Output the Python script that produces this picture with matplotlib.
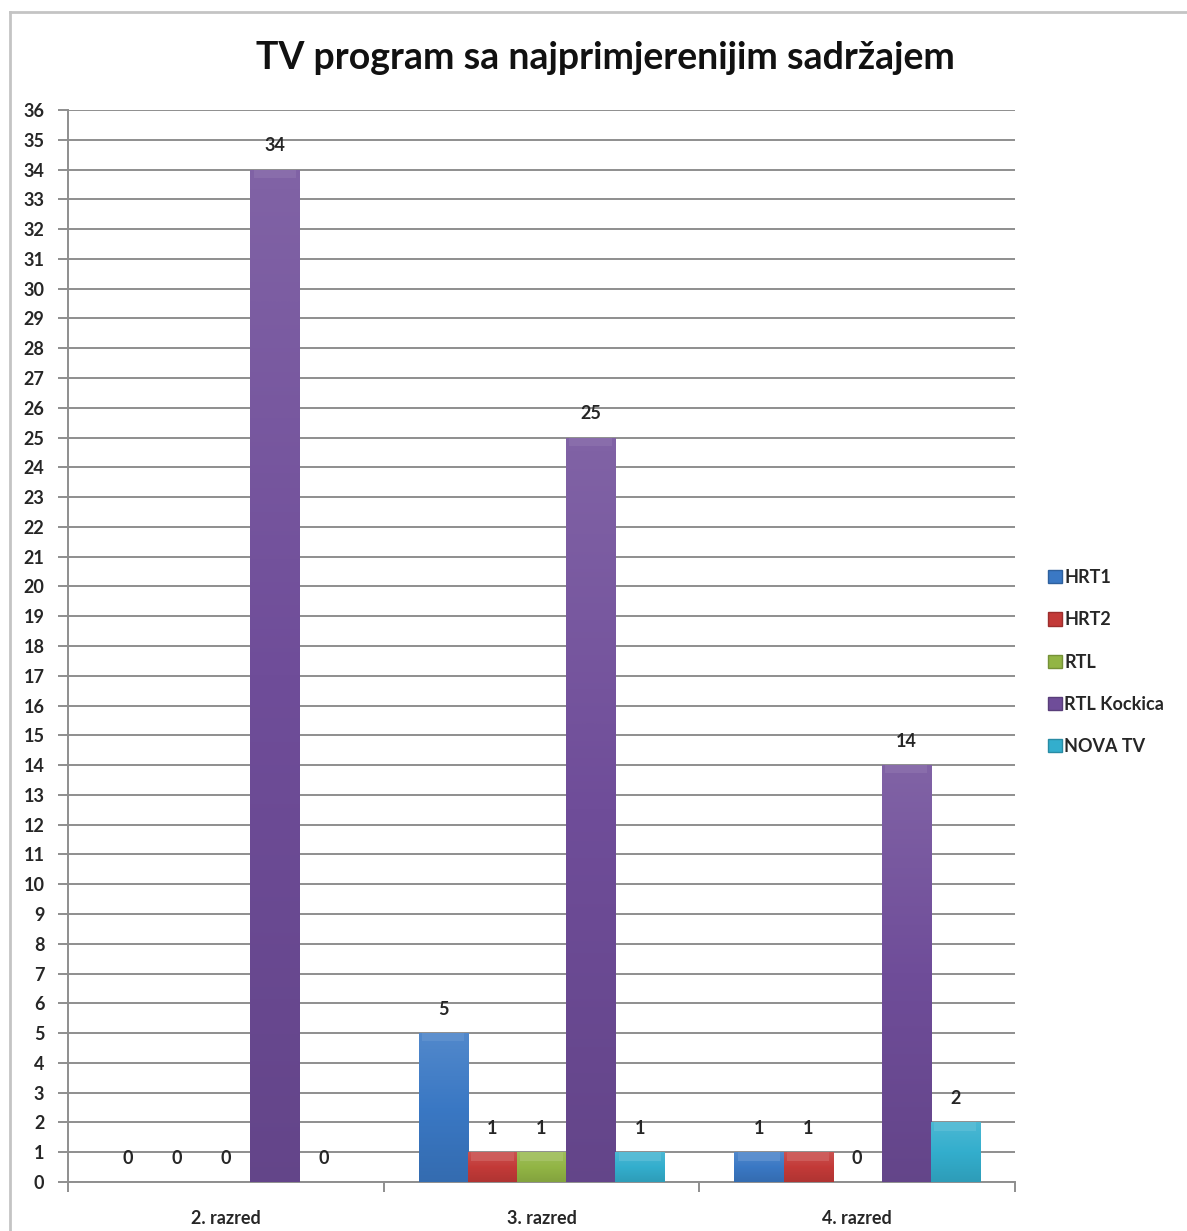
import matplotlib

matplotlib.use("Agg")
import matplotlib.pyplot as plt
import numpy as np
from matplotlib.colors import LinearSegmentedColormap, to_rgb
from matplotlib.lines import Line2D
from matplotlib.patches import Patch

plt.rcParams["font.family"] = ["Lato", "DejaVu Sans"]

CATEGORIES = ["2. razred", "3. razred", "4. razred"]
SERIES = ["HRT1", "HRT2", "RTL", "RTL Kockica", "NOVA TV"]
VALUES = {
    "HRT1": [0, 5, 1],
    "HRT2": [0, 1, 1],
    "RTL": [0, 1, 0],
    "RTL Kockica": [34, 25, 14],
    "NOVA TV": [0, 1, 2],
}
COLORS = {
    "HRT1": "#3a78c4",
    "HRT2": "#c33a38",
    "RTL": "#92b545",
    "RTL Kockica": "#6f4d99",
    "NOVA TV": "#33aecd",
}
TITLE = "TV program sa najprimjerenijim sadržajem"
TEXT = "#262626"
GRID = "#8e8e8e"


def _shade(color, f):
    r, g, b = to_rgb(color)
    if f >= 0:
        return (r + (1 - r) * f, g + (1 - g) * f, b + (1 - b) * f)
    return (r * (1 + f), g * (1 + f), b * (1 + f))


fig = plt.figure(figsize=(11.87, 12.31), dpi=100)
ax = fig.add_axes([68 / 1187, 1 - 1182 / 1231, (1015 - 68) / 1187, (1182 - 110) / 1231])

n = len(SERIES)
width = 1 / (n + 1.43)
x = np.arange(len(CATEGORIES))

for i, name in enumerate(SERIES):
    pos = x - (n - 1) / 2 * width + i * width
    bars = ax.bar(pos, VALUES[name], width=width, color=COLORS[name],
                  edgecolor=_shade(COLORS[name], -0.25), linewidth=0.6, zorder=3)
    base = COLORS[name]
    cmap = LinearSegmentedColormap.from_list(
        name, [_shade(base, 0.12), base, _shade(base, -0.10)])
    for bar, v in zip(bars, VALUES[name]):
        if v > 0:
            x0, w = bar.get_x(), bar.get_width()
            grad = np.linspace(0, 1, 64).reshape(-1, 1)
            im = ax.imshow(grad, cmap=cmap, aspect="auto", zorder=3.5, origin="upper",
                           extent=[x0, x0 + w, 0, v], interpolation="bicubic")
            im.set_clip_path(bar)
            # soft bevel cap at the top of the bar
            cap = min(0.28, v * 0.3)
            ax.fill_between([x0 + w * 0.07, x0 + w * 0.93], v - cap, v,
                            color=_shade(base, 0.2), alpha=0.8, zorder=3.6, linewidth=0)
        ax.annotate(f"{v}", (bar.get_x() + bar.get_width() / 2, v),
                    xytext=(0, 17), textcoords="offset points",
                    ha="center", va="center", fontsize=13, fontweight="bold",
                    color=TEXT)

ax.set_xlim(-0.5, len(CATEGORIES) - 0.5)
ax.set_ylim(0, 36)
ax.set_yticks(range(0, 37))
ax.yaxis.grid(True, color=GRID, linewidth=1.4, zorder=0)
ax.set_axisbelow(True)
ax.set_xticks(x)
ax.set_xticklabels(CATEGORIES)
ax.set_xticks(np.arange(-0.5, len(CATEGORIES)), minor=True)
ax.tick_params(axis="x", which="major", length=0, pad=20, labelsize=13, labelcolor=TEXT)
ax.tick_params(axis="x", which="minor", length=7, width=1.4, color=GRID)
ax.tick_params(axis="y", length=7, width=1.4, color=GRID, labelsize=13,
               labelcolor=TEXT, pad=10)
for lab in ax.get_xticklabels() + ax.get_yticklabels():
    lab.set_fontweight("bold")
for side in ("top", "right"):
    ax.spines[side].set_visible(False)
ax.spines["left"].set_color(GRID)
ax.spines["left"].set_linewidth(1.4)
ax.spines["bottom"].set_color(GRID)
ax.spines["bottom"].set_linewidth(1.4)

fig.text(605 / 1187, 1 - 58 / 1231, TITLE, ha="center", va="center",
         fontsize=27, fontweight="bold", color="#111111")

handles = [Patch(facecolor=COLORS[s], edgecolor=_shade(COLORS[s], -0.2)) for s in SERIES]
leg = fig.legend(handles, SERIES, loc="center left",
                 bbox_to_anchor=(1032 / 1187, 1 - 662 / 1231), frameon=False,
                 handlelength=0.75, handleheight=0.75, handletextpad=0.15,
                 labelspacing=1.4, prop={"size": 13, "weight": "bold"})
for t in leg.get_texts():
    t.set_color(TEXT)

# outer chart border (left and top visible)
fig.add_artist(Line2D([10 / 1187, 10 / 1187], [0, 1 - 12 / 1231],
                      transform=fig.transFigure, color="#c4c4c4", linewidth=2))
fig.add_artist(Line2D([10 / 1187, 1], [1 - 12 / 1231, 1 - 12 / 1231],
                      transform=fig.transFigure, color="#c4c4c4", linewidth=2))

fig.savefig("out.png", dpi=100)
